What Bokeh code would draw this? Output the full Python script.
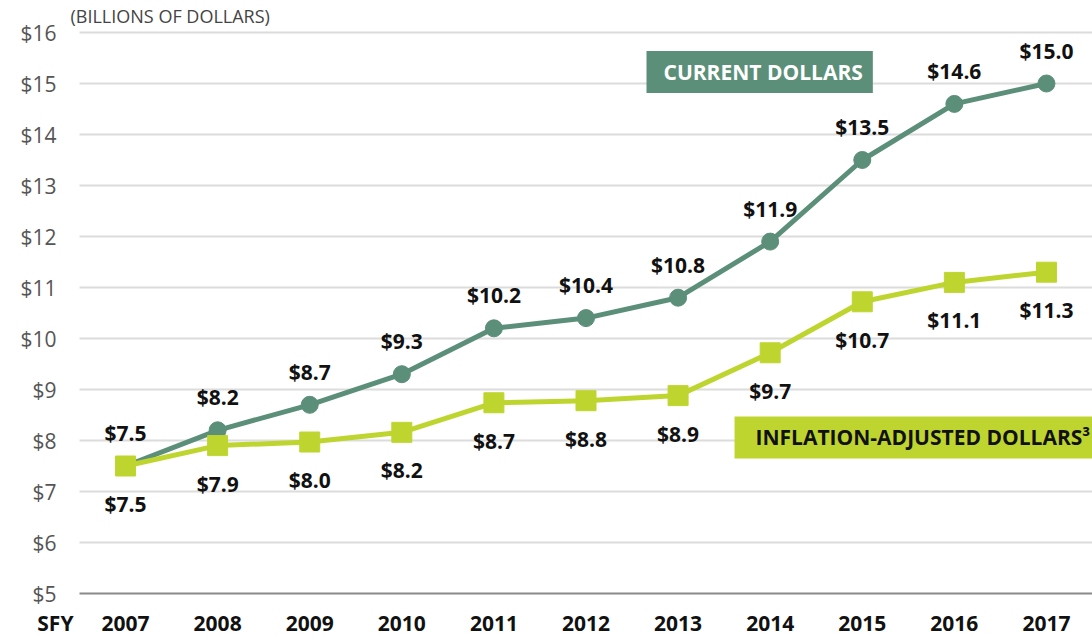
from bokeh.plotting import figure
from bokeh.models import ColumnDataSource, FixedTicker, PrintfTickFormatter, Label
from bokeh.core.properties import value
from bokeh.embed import file_html
from bokeh.resources import INLINE

years = [2007, 2008, 2009, 2010, 2011, 2012, 2013, 2014, 2015, 2016, 2017]
current = [7.5, 8.2, 8.7, 9.3, 10.2, 10.4, 10.8, 11.9, 13.5, 14.6, 15.0]
inflation = [7.5, 7.9, 7.97, 8.16, 8.74, 8.78, 8.88, 9.72, 10.72, 11.1, 11.3]
y_ticks = [5, 6, 7, 8, 9, 10, 11, 12, 13, 14, 15, 16]

GREEN = "#5b8f79"
LIME = "#bfd52f"
FONT = "Open Sans"

X0, X1 = 2006.5, 2017.5     # plotted x extent
Y0 = 5                      # baseline of value axis
PX_X, PX_Y = 92.09, 51.0    # pixels per unit

src_cur = ColumnDataSource(dict(x=years, y=current, lab=["$%.1f" % v for v in current]))
src_inf = ColumnDataSource(dict(x=years, y=inflation, lab=["$%.1f" % v for v in inflation]))

p = figure(width=1092, height=636,
           x_range=(X0 - 79 / PX_X, X1), y_range=(Y0 - 43 / PX_Y, Y0 + 593 / PX_Y),
           output_backend="svg", toolbar_location=None,
           min_border_left=0, min_border_right=0, min_border_top=0, min_border_bottom=0)
p.outline_line_color = None
p.background_fill_color = "white"
p.border_fill_color = "white"

# axes (fixed inside the frame so that side labels are not clipped)
p.xaxis.fixed_location = Y0
p.xaxis.bounds = (X0, X1)
p.xaxis.ticker = FixedTicker(ticks=years)
p.xaxis.formatter = PrintfTickFormatter(format="%d")
p.xaxis.axis_line_color = "#8a8a8a"
p.xaxis.axis_line_width = 2
p.xaxis.major_tick_line_color = None
p.xaxis.minor_tick_line_color = None
p.xaxis.major_tick_out = 0
p.xaxis.major_label_standoff = 22
p.xaxis.major_label_text_font = FONT
p.xaxis.major_label_text_font_style = "bold"
p.xaxis.major_label_text_font_size = "21px"
p.xaxis.major_label_text_color = "#111111"

p.yaxis.fixed_location = X0
p.yaxis.bounds = (5, 16)
p.yaxis.ticker = FixedTicker(ticks=y_ticks)
p.yaxis.formatter = PrintfTickFormatter(format="$%d")
p.yaxis.axis_line_color = None
p.yaxis.major_tick_line_color = None
p.yaxis.minor_tick_line_color = None
p.yaxis.major_tick_out = 0
p.yaxis.major_label_standoff = 23
p.yaxis.major_label_text_font = FONT
p.yaxis.major_label_text_font_size = "21px"
p.yaxis.major_label_text_color = "#555555"

p.xgrid.grid_line_color = None
p.ygrid.grid_line_color = "#dcdcdc"
p.ygrid.grid_line_width = 2
p.ygrid.ticker = FixedTicker(ticks=y_ticks[1:])
p.ygrid.cross_bounds = (X0, X1)

# series
p.line("x", "y", source=src_cur, line_color=GREEN, line_width=5)
p.scatter("x", "y", source=src_cur, marker="circle", size=17, fill_color=GREEN, line_color=GREEN)
p.line("x", "y", source=src_inf, line_color=LIME, line_width=5)
p.scatter("x", "y", source=src_inf, marker="square", size=20, fill_color=LIME, line_color=LIME)

# value labels
p.text("x", "y", text="lab", source=src_cur, text_align="center", text_baseline="middle",
       y_offset=-33, text_font=value(FONT), text_font_style="bold", text_font_size="21px",
       text_color="#111111")
p.text("x", "y", text="lab", source=src_inf, text_align="center", text_baseline="middle",
       y_offset=38, text_font=value(FONT), text_font_style="bold", text_font_size="21px",
       text_color="#111111")

# annotations
p.add_layout(Label(x=X0 - 9 / PX_X, y=16.333, text="(BILLIONS OF DOLLARS)",
                   text_align="left", text_baseline="middle", text_font=FONT,
                   text_font_size="18px", text_color="#444444"))
p.add_layout(Label(x=X0 - 6 / PX_X, y=Y0 - 29 / PX_Y, text="SFY",
                   text_align="right", text_baseline="middle", text_font=FONT,
                   text_font_style="bold", text_font_size="21px", text_color="#111111"))
p.add_layout(Label(x=2012.657, y=15.225, text="CURRENT DOLLARS", text_align="left",
                   text_baseline="middle", text_font=FONT, text_font_style="bold",
                   text_font_size="21px", text_color="white",
                   background_fill_color=GREEN, background_fill_alpha=1.0,
                   padding=dict(left=17, right=10, top=7, bottom=7)))
p.add_layout(Label(x=2013.613, y=8.06, text="INFLATION-ADJUSTED DOLLARS³", text_align="left",
                   text_baseline="middle", text_font=FONT, text_font_style="bold",
                   text_font_size="21px", text_color="#111111",
                   background_fill_color=LIME, background_fill_alpha=1.0,
                   padding=dict(left=21, right=20, top=7, bottom=7)))

open("out.html", "w").write(file_html(p, INLINE))
